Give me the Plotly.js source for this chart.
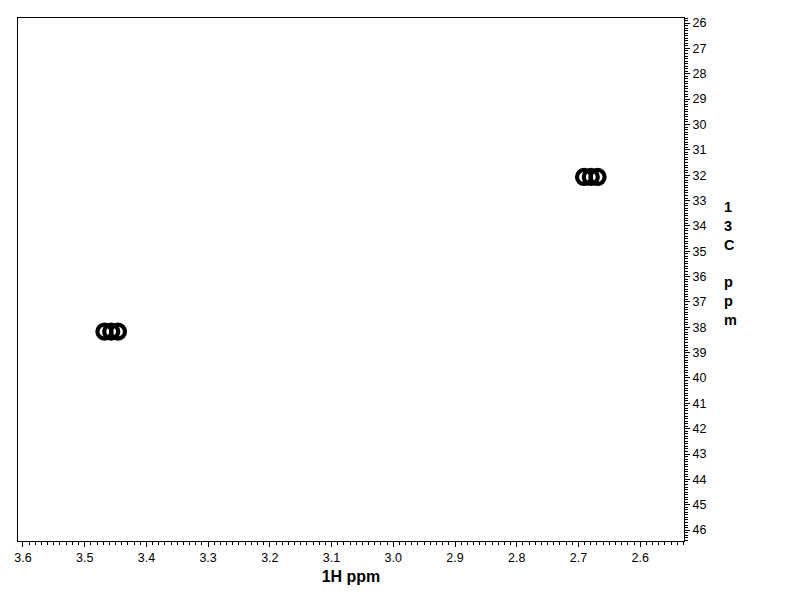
<!DOCTYPE html>
<html>
<head>
<meta charset="utf-8">
<script src="https://cdn.plot.ly/plotly-3.0.1.min.js"></script>
<style>html,body{margin:0;padding:0;background:#fff;}#chart{width:792px;height:612px;}</style>
</head>
<body>
<div id="chart"></div>
<script>
// Cross peaks (1H ppm, 13C ppm) – each cross peak drawn as a cluster of contour rings
const peak1H  = [3.468, 3.457, 3.446, 2.691, 2.680, 2.669];
const peak13C = [38.17, 38.17, 38.17, 32.07, 32.07, 32.07];

const xTitle = '1H ppm';
const yTitleLetters = ['1', '3', 'C', '', 'p', 'p', 'm'];

const trace = {
  type: 'scatter',
  mode: 'markers',
  x: peak1H,
  y: peak13C,
  marker: {symbol: 'circle-open', size: 14, color: '#000', line: {width: 4.2, color: '#000'}},
  hoverinfo: 'x+y',
  showlegend: false
};

const layout = {
  width: 792, height: 612,
  margin: {l: 18, r: 108, t: 18, b: 71, pad: 0},
  paper_bgcolor: '#fff', plot_bgcolor: '#fff',
  font: {family: 'Liberation Sans, Arial, sans-serif', color: '#000', size: 12},
  showlegend: false,
  xaxis: {
    range: [3.608, 2.529],
    showgrid: false, zeroline: false,
    showline: true, linecolor: '#000', linewidth: 1, mirror: true,
    ticks: 'outside', ticklen: 5, tickwidth: 1, tickcolor: '#000',
    tick0: 2.6, dtick: 0.1, tickformat: '.1f',
    minor: {dtick: 0.01, ticks: 'outside', ticklen: 3, tickcolor: '#000', showgrid: false},
    tickfont: {size: 12.5, color: '#000'},
    title: {text: xTitle, font: {size: 16, weight: 'bold'}, standoff: 6}
  },
  yaxis: {
    side: 'right',
    range: [46.43, 25.80],
    showgrid: false, zeroline: false,
    showline: true, linecolor: '#000', linewidth: 1, mirror: true,
    ticks: 'outside', ticklen: 5, tickwidth: 1, tickcolor: '#000',
    tick0: 26, dtick: 1,
    minor: {dtick: 0.1, ticks: 'outside', ticklen: 3, tickcolor: '#000', showgrid: false},
    tickfont: {size: 12.5, color: '#000'}
  },
  annotations: [{
    xref: 'paper', yref: 'paper',
    x: 1.057, y: 0.658, xanchor: 'left', yanchor: 'top',
    text: yTitleLetters.join('<br>'),
    showarrow: false, align: 'left',
    font: {size: 14.5, weight: 'bold', color: '#000'}
  }]
};

Plotly.newPlot('chart', [trace], layout, {displayModeBar: false, staticPlot: true});
</script>
</body>
</html>
